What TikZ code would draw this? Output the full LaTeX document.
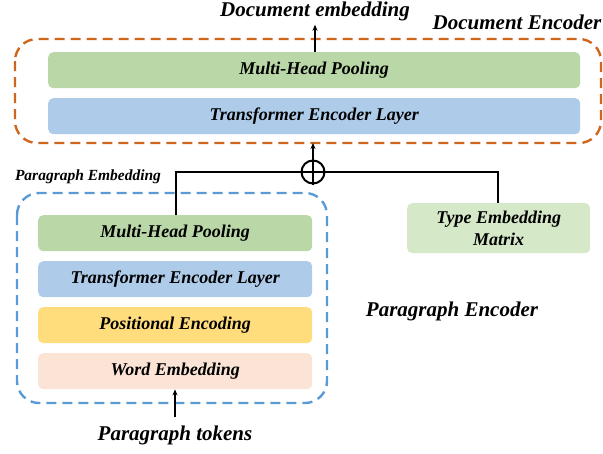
\documentclass[tikz,border=0pt]{standalone}
\usepackage{fontspec}
\setmainfont{Liberation Serif}
\usetikzlibrary{arrows.meta}
\definecolor{mhpgreen}{HTML}{B9D7A7}
\definecolor{telblue}{HTML}{AECCEA}
\definecolor{peyellow}{HTML}{FFDC7C}
\definecolor{wepeach}{HTML}{FBE3D5}
\definecolor{typegreen}{HTML}{D5E8C8}
\definecolor{docorange}{HTML}{CF6620}
\definecolor{parblue}{HTML}{5A9BD5}
\tikzset{
  layer/.style={rounded corners=5pt, inner sep=0pt, anchor=north west,
    font=\bfseries\itshape\fontsize{18}{20}\selectfont},
  encbox/.style={rounded corners=22pt, line width=2.4pt, dash pattern=on 10pt off 6pt},
  lbl/.style={font=\bfseries\itshape\fontsize{21}{23}\selectfont, inner sep=0pt},
  conn/.style={line width=1.3pt},
  arr/.style={line width=1.3pt, -{Stealth[length=6pt,width=5pt]}}
}
\begin{document}
\begin{tikzpicture}[x=1pt,y=-1pt]
\useasboundingbox (0,0) rectangle (603,453);
% document encoder
\draw[encbox, docorange] (15,39) rectangle (601,143);
\node[layer, fill=mhpgreen, minimum width=532pt, minimum height=36pt] (dmhp) at (48,52) {Multi-Head Pooling};
\node[layer, fill=telblue, minimum width=532pt, minimum height=36pt] (dtel) at (48,98) {Transformer Encoder Layer};
\node[lbl] (docemb) at (315,11) {Document embedding};
\node[lbl] (docenc) at (517,22) {Document Encoder};
\coordinate (docbot) at (313,143);
% paragraph encoder
\draw[encbox, parblue] (17,193) rectangle (327,403);
\node[layer, fill=mhpgreen, minimum width=274pt, minimum height=36pt] (pmhp) at (38,215) {Multi-Head Pooling};
\node[layer, fill=telblue, minimum width=274pt, minimum height=36pt] (ptel) at (38,261) {Transformer Encoder Layer};
\node[layer, fill=peyellow, minimum width=274pt, minimum height=36pt] (ppe) at (38,307) {Positional Encoding};
\node[layer, fill=wepeach, minimum width=274pt, minimum height=36pt] (pwe) at (38,353) {Word Embedding};
\node[layer, fill=typegreen, minimum width=183pt, minimum height=50pt, align=center,
  font=\bfseries\itshape\fontsize{18}{22}\selectfont] (type) at (407,203) {Type Embedding\\Matrix};
\node[font=\bfseries\itshape\fontsize{15.5}{17}\selectfont, inner sep=0pt] (paremb) at (88,177) {Paragraph Embedding};
\node[lbl] (parenc) at (452,311) {Paragraph Encoder};
\node[lbl] (partok) at (175,435) {Paragraph tokens};
\coordinate (parbot) at (175,417);
% plus
\node[draw, circle, line width=2pt, minimum size=23pt, inner sep=0pt] (plus) at (313,172) {};
\draw[line width=2pt] (plus.north) -- (plus.south) (plus.west) -- (plus.east);
% connectors
\draw[conn] (pmhp.north -| 176,0) |- (plus.west);
\draw[conn] (type.north -| 498,0) |- (plus.east);
\draw[arr] (plus.north) -- (docbot);
\draw[arr] (dmhp.north -| docemb.south) -- ([yshift=-4pt]docemb.south);
\draw[arr] (parbot) -- (pwe.south -| parbot);
\end{tikzpicture}
\end{document}
